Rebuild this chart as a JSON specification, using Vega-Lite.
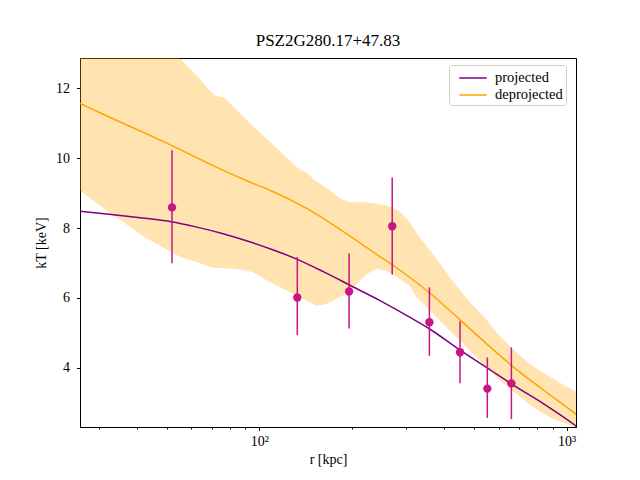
{
  "$schema": "https://vega.github.io/schema/vega-lite/v6.json",
  "width": 496,
  "height": 369,
  "autosize": "none",
  "padding": {"left": 80, "top": 58, "right": 64, "bottom": 53},
  "background": "white",
  "title": {"text": "PSZ2G280.17+47.83", "font": "Liberation Serif", "fontSize": 17, "fontWeight": "normal", "color": "black", "offset": 8},
  "config": {
    "view": {"stroke": "black", "strokeWidth": 1},
    "axis": {"domainColor": "black", "tickColor": "black", "labelColor": "black", "titleColor": "black", "labelFont": "Liberation Serif", "titleFont": "Liberation Serif", "labelFontSize": 14, "titleFontSize": 14, "titleFontWeight": "normal", "grid": false, "tickWidth": 1, "domainWidth": 1},
    "legend": {"labelFont": "Liberation Serif", "labelFontSize": 14.5, "labelColor": "black"}
  },
  "datasets": {
    "band": [
      {"r": 26.1, "lo": 9.08, "hi": 15.9},
      {"r": 33.0, "lo": 8.42, "hi": 14.94},
      {"r": 42.4, "lo": 7.75, "hi": 13.93},
      {"r": 55.1, "lo": 7.19, "hi": 12.86},
      {"r": 63.2, "lo": 7.03, "hi": 12.3},
      {"r": 69.8, "lo": 6.89, "hi": 11.88},
      {"r": 71.6, "lo": 6.88, "hi": 11.79},
      {"r": 77.15, "lo": 6.86, "hi": 11.71},
      {"r": 83.2, "lo": 6.84, "hi": 11.43},
      {"r": 91.9, "lo": 6.79, "hi": 11.04},
      {"r": 95.6, "lo": 6.74, "hi": 10.9},
      {"r": 111.1, "lo": 6.41, "hi": 10.36},
      {"r": 132.3, "lo": 6.08, "hi": 9.73},
      {"r": 142.6, "lo": 5.93, "hi": 9.56},
      {"r": 153.7, "lo": 5.79, "hi": 9.31},
      {"r": 165.7, "lo": 5.84, "hi": 9.13},
      {"r": 183.0, "lo": 6.03, "hi": 8.83},
      {"r": 197.3, "lo": 6.22, "hi": 8.72},
      {"r": 223.6, "lo": 6.7, "hi": 8.72},
      {"r": 241.0, "lo": 6.84, "hi": 8.68},
      {"r": 259.7, "lo": 6.79, "hi": 8.63},
      {"r": 286.9, "lo": 6.55, "hi": 8.46},
      {"r": 309.2, "lo": 6.35, "hi": 8.13},
      {"r": 325.1, "lo": 6.03, "hi": 7.83},
      {"r": 368.1, "lo": 5.55, "hi": 7.22},
      {"r": 417.3, "lo": 5.07, "hi": 6.56},
      {"r": 472.7, "lo": 4.6, "hi": 5.96},
      {"r": 535.4, "lo": 4.12, "hi": 5.46},
      {"r": 606.7, "lo": 3.64, "hi": 4.88},
      {"r": 687.6, "lo": 3.26, "hi": 4.41},
      {"r": 778.6, "lo": 2.88, "hi": 4.02},
      {"r": 882.5, "lo": 2.59, "hi": 3.72},
      {"r": 1000, "lo": 2.4, "hi": 3.44},
      {"r": 1064, "lo": 2.3, "hi": 3.31},
      {"r": 1075, "lo": 2.27, "hi": 3.28}
    ],
    "model": [
      {"model": "projected", "r": 26.1, "T": 8.48},
      {"model": "projected", "r": 33.0, "T": 8.39},
      {"model": "projected", "r": 42.39, "T": 8.28},
      {"model": "projected", "r": 51.72, "T": 8.18},
      {"model": "projected", "r": 61.65, "T": 8.04},
      {"model": "projected", "r": 75.22, "T": 7.85},
      {"model": "projected", "r": 91.88, "T": 7.62},
      {"model": "projected", "r": 111.1, "T": 7.37},
      {"model": "projected", "r": 132.3, "T": 7.11},
      {"model": "projected", "r": 161.5, "T": 6.75},
      {"model": "projected", "r": 197.3, "T": 6.36},
      {"model": "projected", "r": 247.0, "T": 5.92},
      {"model": "projected", "r": 309.2, "T": 5.44},
      {"model": "projected", "r": 359.2, "T": 5.1},
      {"model": "projected", "r": 449.7, "T": 4.5},
      {"model": "projected", "r": 549.3, "T": 4.0},
      {"model": "projected", "r": 662.3, "T": 3.53},
      {"model": "projected", "r": 839.3, "T": 2.97},
      {"model": "projected", "r": 1064, "T": 2.35},
      {"model": "projected", "r": 1075, "T": 2.32},
      {"model": "deprojected", "r": 26.1, "T": 11.57},
      {"model": "deprojected", "r": 33.0, "T": 11.15},
      {"model": "deprojected", "r": 42.39, "T": 10.72},
      {"model": "deprojected", "r": 51.4, "T": 10.38},
      {"model": "deprojected", "r": 69.81, "T": 9.81},
      {"model": "deprojected", "r": 91.88, "T": 9.34},
      {"model": "deprojected", "r": 111.1, "T": 9.04},
      {"model": "deprojected", "r": 142.6, "T": 8.56},
      {"model": "deprojected", "r": 183.0, "T": 7.96},
      {"model": "deprojected", "r": 234.9, "T": 7.31},
      {"model": "deprojected", "r": 286.9, "T": 6.79},
      {"model": "deprojected", "r": 359.2, "T": 6.13},
      {"model": "deprojected", "r": 449.7, "T": 5.37},
      {"model": "deprojected", "r": 549.3, "T": 4.68},
      {"model": "deprojected", "r": 662.3, "T": 4.06},
      {"model": "deprojected", "r": 839.3, "T": 3.36},
      {"model": "deprojected", "r": 1064, "T": 2.69},
      {"model": "deprojected", "r": 1075, "T": 2.66}
    ],
    "points": [
      {"r": 52.0, "T": 8.59, "lo": 6.99, "hi": 10.23},
      {"r": 132.9, "T": 6.01, "lo": 4.93, "hi": 7.17},
      {"r": 195.9, "T": 6.18, "lo": 5.12, "hi": 7.27},
      {"r": 270.6, "T": 8.05, "lo": 6.67, "hi": 9.45},
      {"r": 357.5, "T": 5.3, "lo": 4.34, "hi": 6.3},
      {"r": 449.7, "T": 4.44, "lo": 3.55, "hi": 5.33},
      {"r": 551.7, "T": 3.4, "lo": 2.56, "hi": 4.29},
      {"r": 660.7, "T": 3.55, "lo": 2.53, "hi": 4.58}
    ]
  },
  "encoding": {
    "x": {
      "field": "r", "type": "quantitative",
      "scale": {"type": "log", "domain": [26.1, 1072], "nice": false, "zero": false},
      "axis": {
        "title": "r [kpc]",
        "values": [30, 40, 50, 60, 70, 80, 90, 100, 200, 300, 400, 500, 600, 700, 800, 900, 1000],
        "labelExpr": "datum.value == 100 ? '10²' : (datum.value == 1000 ? '10³' : '')",
        "tickSize": {"condition": {"test": "datum.value == 100 || datum.value == 1000", "value": 3.5}, "value": 2},
        "labelPadding": 4,
        "titlePadding": 4,
        "labelFlush": false,
        "labelOverlap": false
      }
    }
  },
  "layer": [
    {
      "data": {"name": "band"},
      "mark": {"type": "area", "color": "#FFA500", "opacity": 0.3, "clip": true, "stroke": "#FFA500", "strokeWidth": 1},
      "encoding": {
        "y": {"field": "lo", "type": "quantitative", "scale": {"domain": [2.3, 12.87], "nice": false, "zero": false},
          "axis": {"title": "kT [keV]", "values": [4, 6, 8, 10, 12], "tickSize": 3.5, "labelPadding": 7, "titlePadding": 7}},
        "y2": {"field": "hi"}
      }
    },
    {
      "data": {"name": "model"},
      "mark": {"type": "line", "strokeWidth": 1.5, "clip": true, "interpolate": "monotone"},
      "encoding": {
        "y": {"field": "T", "type": "quantitative"},
        "color": {
          "field": "model", "type": "nominal",
          "scale": {"domain": ["projected", "deprojected"], "range": ["#800080", "#FFA500"]},
          "legend": {"title": null, "orient": "none", "legendX": 369, "legendY": 7, "symbolType": "M-1.5,0H1.5", "symbolStrokeWidth": 1.5, "symbolSize": 335, "symbolOffset": 11, "strokeColor": "#cccccc", "fillColor": "white", "padding": 3, "cornerRadius": 3, "rowPadding": 0, "labelOffset": 12}
        }
      }
    },
    {
      "data": {"name": "points"},
      "mark": {"type": "rule", "color": "#C71585", "strokeWidth": 1.5},
      "encoding": {
        "y": {"field": "lo", "type": "quantitative"},
        "y2": {"field": "hi"}
      }
    },
    {
      "data": {"name": "points"},
      "mark": {"type": "circle", "color": "#C71585", "opacity": 1, "size": 70},
      "encoding": {
        "y": {"field": "T", "type": "quantitative"}
      }
    }
  ]
}
